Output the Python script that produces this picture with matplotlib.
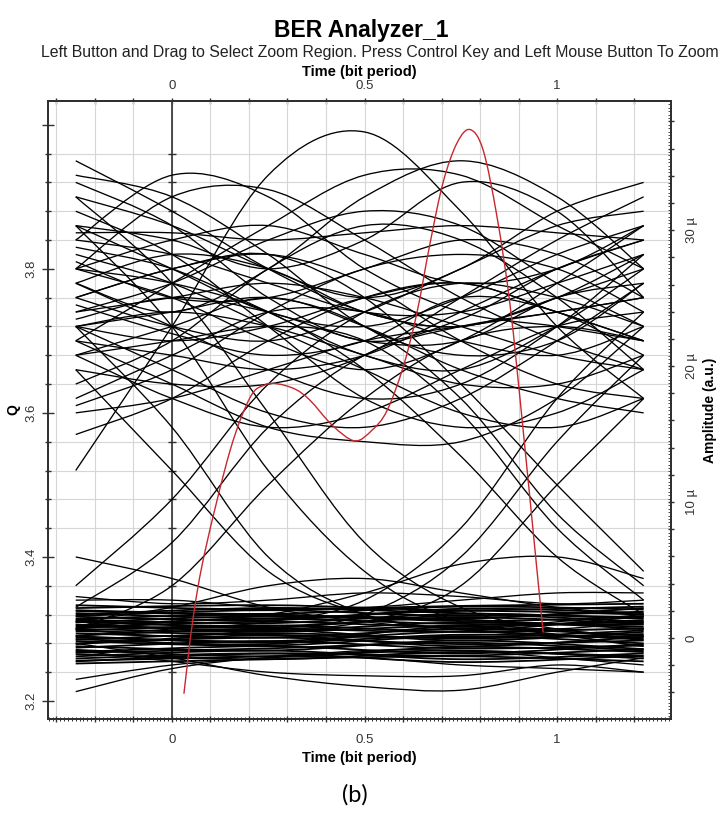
import numpy as np
import matplotlib
matplotlib.use('Agg')
import matplotlib.pyplot as plt
from matplotlib.path import Path
from matplotlib.patches import PathPatch
from matplotlib.ticker import MultipleLocator, FuncFormatter

plt.rcParams['font.family'] = ['Liberation Sans', 'DejaVu Sans']

# knot times (bit period) for the eye traces
knots = [-0.25, 0.0, 0.25, 0.5, 0.75, 1.0, 1.225]
band_knots = [-0.25, 0.25, 0.75, 1.225]

# upper rail ("1" level), Q value at each knot
upper = [
    [3.95, 3.88, 3.80, 3.74, 3.72, 3.76, 3.82],
    [3.93, 3.90, 3.82, 3.72, 3.68, 3.70, 3.78],
    [3.92, 3.86, 3.76, 3.70, 3.73, 3.80, 3.84],
    [3.84, 3.93, 3.90, 3.80, 3.74, 3.72, 3.70],
    [3.80, 3.90, 3.91, 3.84, 3.76, 3.70, 3.66],
    [3.52, 3.72, 3.93, 3.99, 3.88, 3.72, 3.62],
    [3.78, 3.74, 3.80, 3.90, 3.95, 3.90, 3.80],
    [3.70, 3.78, 3.86, 3.93, 3.93, 3.86, 3.80],
    [3.86, 3.84, 3.80, 3.84, 3.92, 3.88, 3.76],
    [3.85, 3.85, 3.84, 3.85, 3.86, 3.85, 3.84],
    [3.83, 3.80, 3.74, 3.68, 3.66, 3.72, 3.80],
    [3.78, 3.72, 3.66, 3.62, 3.64, 3.72, 3.82],
    [3.72, 3.66, 3.60, 3.58, 3.62, 3.70, 3.78],
    [3.70, 3.64, 3.58, 3.56, 3.56, 3.62, 3.72],
    [3.60, 3.62, 3.66, 3.70, 3.72, 3.74, 3.76],
    [3.57, 3.62, 3.70, 3.76, 3.78, 3.74, 3.70],
    [3.61, 3.66, 3.74, 3.80, 3.82, 3.80, 3.74],
    [3.74, 3.76, 3.78, 3.76, 3.72, 3.68, 3.66],
    [3.76, 3.72, 3.70, 3.74, 3.80, 3.86, 3.88],
    [3.72, 3.70, 3.72, 3.76, 3.78, 3.74, 3.70],
    [3.82, 3.78, 3.72, 3.66, 3.60, 3.58, 3.62],
    [3.88, 3.82, 3.72, 3.62, 3.58, 3.60, 3.66],
    [3.68, 3.72, 3.76, 3.72, 3.66, 3.62, 3.60],
    [3.64, 3.70, 3.80, 3.86, 3.84, 3.76, 3.66],
    [3.80, 3.76, 3.70, 3.66, 3.70, 3.78, 3.86],
    [3.74, 3.78, 3.84, 3.88, 3.86, 3.78, 3.72],
    [3.70, 3.68, 3.66, 3.68, 3.74, 3.80, 3.84],
    [3.76, 3.80, 3.82, 3.78, 3.70, 3.64, 3.62],
    [3.66, 3.64, 3.64, 3.68, 3.76, 3.84, 3.90],
    [3.84, 3.82, 3.78, 3.74, 3.74, 3.78, 3.82],
    [3.72, 3.74, 3.72, 3.68, 3.64, 3.64, 3.68],
    [3.80, 3.84, 3.86, 3.82, 3.78, 3.80, 3.86],
    [3.68, 3.62, 3.58, 3.60, 3.66, 3.72, 3.74],
    [3.78, 3.82, 3.80, 3.74, 3.72, 3.76, 3.80],
    [3.86, 3.80, 3.74, 3.72, 3.76, 3.82, 3.86],
    [3.62, 3.68, 3.74, 3.74, 3.70, 3.68, 3.72],
    [3.75, 3.71, 3.68, 3.70, 3.76, 3.74, 3.68],
    [3.90, 3.86, 3.80, 3.76, 3.80, 3.88, 3.92],
    [3.73, 3.76, 3.74, 3.70, 3.70, 3.76, 3.78],
    [3.81, 3.76, 3.76, 3.80, 3.84, 3.82, 3.76],
]

# transitions between the rails
edges = [
    [3.72, 3.58, 3.40, 3.32, 3.30, 3.29, 3.29],
    [3.86, 3.72, 3.52, 3.38, 3.31, 3.30, 3.30],
    [3.66, 3.52, 3.38, 3.32, 3.30, 3.31, 3.32],
    [3.90, 3.78, 3.60, 3.42, 3.33, 3.30, 3.29],
    [3.33, 3.42, 3.58, 3.68, 3.72, 3.74, 3.76],
    [3.30, 3.36, 3.50, 3.62, 3.70, 3.72, 3.70],
    [3.36, 3.48, 3.64, 3.74, 3.78, 3.76, 3.72],
    [3.72, 3.74, 3.76, 3.72, 3.62, 3.46, 3.36],
    [3.80, 3.78, 3.74, 3.66, 3.54, 3.40, 3.32],
    [3.68, 3.70, 3.72, 3.70, 3.60, 3.44, 3.34],
    [3.76, 3.80, 3.82, 3.76, 3.64, 3.50, 3.38],
    [3.30, 3.29, 3.30, 3.32, 3.40, 3.56, 3.68],
    [3.29, 3.30, 3.31, 3.34, 3.44, 3.62, 3.74],
    [3.31, 3.30, 3.30, 3.31, 3.36, 3.50, 3.62],
]

# lower rail outliers around the dense band
lower = [
    [3.40, 3.37, 3.33, 3.31, 3.30, 3.30, 3.31],
    [3.30, 3.31, 3.32, 3.35, 3.39, 3.40, 3.37],
    [3.31, 3.33, 3.36, 3.37, 3.35, 3.33, 3.32],
    [3.34, 3.34, 3.33, 3.33, 3.34, 3.35, 3.35],
    [3.345, 3.335, 3.34, 3.35, 3.345, 3.335, 3.34],
    [3.23, 3.25, 3.26, 3.27, 3.27, 3.26, 3.25],
    [3.213, 3.245, 3.26, 3.26, 3.25, 3.245, 3.24],
    [3.28, 3.26, 3.235, 3.22, 3.215, 3.24, 3.26],
    [3.27, 3.255, 3.24, 3.235, 3.235, 3.25, 3.24],
]

# dense "0" band
band = [
    [3.262, 3.270, 3.258, 3.266], [3.271, 3.262, 3.275, 3.268],
    [3.280, 3.288, 3.279, 3.284], [3.290, 3.281, 3.292, 3.287],
    [3.298, 3.305, 3.296, 3.301], [3.306, 3.298, 3.309, 3.303],
    [3.314, 3.320, 3.311, 3.317], [3.322, 3.315, 3.325, 3.320],
    [3.329, 3.333, 3.326, 3.331], [3.256, 3.262, 3.270, 3.259],
    [3.268, 3.276, 3.266, 3.279], [3.276, 3.270, 3.284, 3.272],
    [3.285, 3.294, 3.287, 3.293], [3.294, 3.288, 3.300, 3.291],
    [3.302, 3.310, 3.303, 3.312], [3.310, 3.304, 3.316, 3.307],
    [3.318, 3.326, 3.318, 3.324], [3.326, 3.321, 3.331, 3.327],
    [3.252, 3.258, 3.262, 3.255], [3.265, 3.258, 3.268, 3.262],
    [3.283, 3.277, 3.290, 3.280], [3.297, 3.292, 3.288, 3.298],
    [3.305, 3.314, 3.307, 3.309], [3.313, 3.308, 3.321, 3.314],
    [3.320, 3.329, 3.322, 3.316], [3.333, 3.327, 3.332, 3.335],
    [3.259, 3.266, 3.254, 3.263], [3.274, 3.283, 3.273, 3.277],
    [3.288, 3.283, 3.296, 3.285], [3.300, 3.296, 3.305, 3.306],
    [3.309, 3.318, 3.313, 3.300], [3.317, 3.312, 3.328, 3.322],
    [3.267, 3.273, 3.281, 3.270], [3.279, 3.291, 3.276, 3.289],
    [3.291, 3.299, 3.284, 3.296], [3.303, 3.301, 3.297, 3.318],
    [3.325, 3.318, 3.314, 3.329], [3.255, 3.266, 3.263, 3.272],
    [3.286, 3.279, 3.303, 3.276], [3.312, 3.302, 3.319, 3.310],
]

# red amplitude trace (right axis, micro units)
red_t = [0.031, 0.055, 0.086, 0.151, 0.203, 0.240, 0.273, 0.320, 0.358, 0.418,
         0.475, 0.520, 0.558, 0.600, 0.636, 0.670, 0.704, 0.740, 0.774, 0.808,
         0.844, 0.878, 0.912, 0.943, 0.964]
red_amp = [-4.1, 1.5, 6.4, 13.8, 17.7, 18.6, 18.7, 18.3, 17.5, 15.6,
           14.5, 15.3, 16.7, 19.9, 23.9, 29.0, 33.5, 36.4, 37.4, 35.9,
           31.0, 24.5, 15.3, 6.4, 0.4]


def smooth(ts, qs):
    pts = np.column_stack([ts, qs])
    n = len(pts)
    verts = [pts[0]]
    codes = [Path.MOVETO]
    for i in range(n - 1):
        p0 = pts[max(i - 1, 0)]
        p1 = pts[i]
        p2 = pts[i + 1]
        p3 = pts[min(i + 2, n - 1)]
        verts += [p1 + (p2 - p0) / 6, p2 - (p3 - p1) / 6, p2]
        codes += [Path.CURVE4] * 3
    return Path(verts, codes)


fig = plt.figure(figsize=(7.23, 8.16), dpi=100)
ax = fig.add_axes([48 / 723, 1 - 719 / 816, 623 / 723, 618 / 816])

for tr in upper + edges + lower:
    ax.add_patch(PathPatch(smooth(knots, tr), fill=False, edgecolor='black', lw=0.95, zorder=3))
for tr in band:
    ax.add_patch(PathPatch(smooth(band_knots, tr), fill=False, edgecolor='black', lw=1.3, zorder=3))

ax.set_xlim(-0.322, 1.296)
ax.set_ylim(3.175, 4.033)

# grid
ax.xaxis.set_major_locator(MultipleLocator(0.1))
ax.xaxis.set_minor_locator(MultipleLocator(0.01))
ax.yaxis.set_major_locator(MultipleLocator(0.2))
ax.yaxis.set_minor_locator(MultipleLocator(0.04))
ax.grid(True, which='major', axis='x', color='#d6d6d6', lw=0.8)
ax.grid(True, which='minor', axis='y', color='#d6d6d6', lw=0.8)
ax.set_axisbelow(True)

# vertical axis at t = 0 with its tick marks
ax.axvline(0, color='#303030', lw=1.2, zorder=2)
qt = ax.yaxis.get_minorticklocs()
ax.plot(np.zeros(len(qt)), qt, ls='none', marker='_', ms=6, mew=1.0, color='#303030', zorder=2)


def time_fmt(v, pos):
    for val, s in [(0, '0'), (0.5, '0.5'), (1, '1')]:
        if abs(v - val) < 1e-6:
            return s
    return ''


def q_fmt(v, pos):
    return '%.1f' % v if v < 3.9 else ''


ax.xaxis.set_major_formatter(FuncFormatter(time_fmt))
ax.yaxis.set_major_formatter(FuncFormatter(q_fmt))
ax.tick_params(axis='x', which='major', direction='inout', length=5, width=1, colors='#303030',
               labelsize=9.5, labelcolor='#333333', pad=8)
ax.tick_params(axis='x', which='minor', direction='inout', length=2.5, width=0.7, colors='#303030')
ax.tick_params(axis='y', which='major', direction='inout', length=9, width=1, colors='#303030',
               labelsize=9.5, labelcolor='#333333', labelrotation=90, pad=3)
ax.tick_params(axis='y', which='minor', direction='inout', length=5, width=1, colors='#303030')
for lab in ax.get_yticklabels():
    lab.set_va('center')

for s in ax.spines.values():
    s.set_color('#303030')
    s.set_linewidth(1.3)

ax.set_ylabel('Q', fontweight='bold', fontsize=10, labelpad=4)
ax.set_xlabel('Time (bit period)', fontweight='bold', fontsize=10.5, labelpad=4)

top = ax.secondary_xaxis('top')
top.xaxis.set_major_locator(MultipleLocator(0.1))
top.xaxis.set_major_formatter(FuncFormatter(time_fmt))
top.tick_params(direction='inout', length=5, width=1, colors='#303030', labelsize=9.5,
                labelcolor='#333333', pad=4)
top.set_xlabel('Time (bit period)', fontweight='bold', fontsize=10.5, labelpad=3)
top.spines['top'].set_color('#303030')
top.spines['top'].set_linewidth(1.3)

# amplitude axis on the right
ax2 = ax.twinx()
ax2.set_ylim(-5.96, 39.5)
ax2.add_patch(PathPatch(smooth(red_t, red_amp), fill=False, edgecolor='#c8282d', lw=1.0, zorder=5))
ax2.yaxis.set_major_locator(MultipleLocator(2))
ax2.yaxis.set_minor_locator(MultipleLocator(0.25))


def amp_fmt(v, pos):
    r = int(round(v))
    if abs(v - r) < 1e-6 and r % 10 == 0:
        return '0' if r == 0 else '%d \u00b5' % r
    return ''


ax2.yaxis.set_major_formatter(FuncFormatter(amp_fmt))
ax2.tick_params(axis='y', which='major', direction='inout', length=5, width=1, colors='#303030',
                labelsize=9.5, labelcolor='#333333', labelrotation=90, pad=8)
ax2.tick_params(axis='y', which='minor', direction='in', length=2, width=0.6, colors='#303030')
for lab in ax2.get_yticklabels():
    lab.set_va('center')
ax2.set_ylabel('Amplitude (a.u.)', fontweight='bold', fontsize=10, rotation=90, labelpad=4)
for s in ax2.spines.values():
    s.set_color('#303030')
    s.set_linewidth(1.3)

fig.text(361 / 723, 1 - 30 / 816, 'BER Analyzer_1', ha='center', va='center',
         fontsize=16.5, fontweight='bold')
fig.text(41 / 723, 1 - 53 / 816,
         'Left Button and Drag to Select Zoom Region. Press Control Key and Left Mouse Button To Zoom',
         ha='left', va='center', fontsize=11.4, color='#222222')
fig.text(355 / 723, 1 - 795 / 816, '(b)', ha='center', va='center', fontsize=17,
         family=['Lato', 'Open Sans', 'DejaVu Sans'])

fig.savefig('out.png', dpi=100)
